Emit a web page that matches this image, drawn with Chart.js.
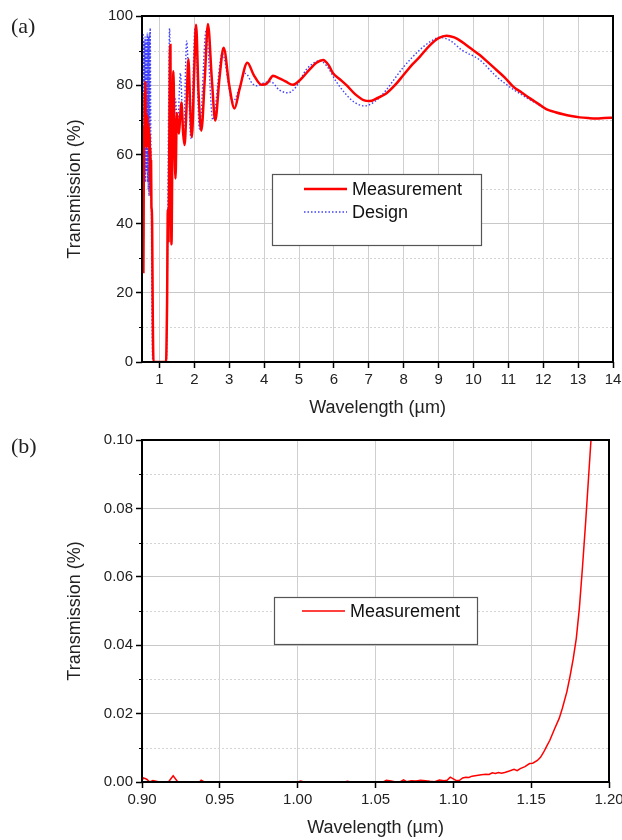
<!DOCTYPE html>
<html>
<head>
<meta charset="utf-8">
<script src="https://cdn.jsdelivr.net/npm/chart.js@4.4.1/dist/chart.umd.min.js"></script>
<style>
  body { margin: 0; background: #fff; }
  .panel { position: absolute; left: 0; width: 622px; height: 420px; }
</style>
</head>
<body>
<div class="panel" style="top:0"><canvas id="chartA" width="622" height="420"></canvas></div>
<div class="panel" style="top:420px"><canvas id="chartB" width="622" height="420"></canvas></div>
<script>
// (a) full spectrum, wavelength in um, transmission in %
let measWl = [0.50, 0.51, 0.52, 0.53, 0.54, 0.55, 0.56, 0.57, 0.58, 0.59, 0.60, 0.61, 0.62, 0.63, 0.64, 0.65,
  0.66, 0.67, 0.68, 0.69, 0.70, 0.71, 0.72, 0.73, 0.74, 0.75, 0.76, 0.77, 0.78, 0.79, 0.81, 0.83,
  1.19, 1.21, 1.22, 1.24, 1.26, 1.28, 1.30, 1.315, 1.33, 1.345, 1.37, 1.40, 1.43, 1.46, 1.50, 1.53,
  1.56, 1.60, 1.63, 1.68, 1.72, 1.77, 1.83, 1.88, 1.93, 2.00, 2.05, 2.12, 2.20, 2.30, 2.39, 2.50,
  2.60, 2.72, 2.84, 3.00, 3.15, 3.30, 3.52, 3.70, 3.93, 4.08, 4.20, 4.25, 4.44, 4.63, 4.82, 5.06,
  5.30, 5.50, 5.69, 5.85, 5.97, 6.16, 6.36, 6.60, 6.85, 7.02, 7.25, 7.50, 7.75, 8.00, 8.25, 8.46,
  8.75, 9.00, 9.23, 9.45, 9.66, 9.90, 10.18, 10.42, 10.66, 10.90, 11.14, 11.38, 11.62, 11.86, 12.10,
  12.35, 12.57, 12.80, 13.05, 13.30, 13.52, 13.75, 14.00];
let measT = [45, 60, 40, 55, 26, 50, 68, 62, 78, 64, 81, 63, 72, 62, 70, 64,
  71, 63, 69, 62, 68, 60, 66, 52, 62, 48, 58, 45, 44, 40, 12, 0,
  0, 10, 18, 44, 35, 60, 88, 91.6, 50, 34, 60, 84, 65, 53, 72, 68,
  66, 72, 75, 66, 62.7, 72, 87.5, 74, 65, 85, 97.5, 78, 66.8, 82, 97.7, 82,
  69.8, 82, 90.8, 80, 73.3, 79, 86.5, 83, 80.1, 80.5, 82.2, 82.7, 82.0, 81, 80.1, 81.8,
  84.5, 86.5, 87.3, 85.8, 83.5, 81.8, 80, 77.5, 75.7, 75.4, 76.3, 77.6, 80, 83, 86, 88.2,
  91.5, 93.6, 94.3, 93.8, 92.6, 90.8, 88.7, 86.6, 84.4, 82.2, 79.6, 77.9, 76.2, 74.6, 73,
  72.2, 71.6, 71.1, 70.7, 70.5, 70.4, 70.5, 70.6];

let designWl = [0.50, 0.51, 0.52, 0.53, 0.54, 0.55, 0.56, 0.57, 0.58, 0.59, 0.60, 0.61, 0.62, 0.63, 0.64, 0.65,
  0.66, 0.67, 0.68, 0.69, 0.70, 0.71, 0.72, 0.735, 0.75, 0.77, 0.79, 0.81, 1.20, 1.23, 1.26, 1.29,
  1.33, 1.37, 1.42, 1.46, 1.52, 1.60, 1.69, 1.78, 1.90, 2.02, 2.15, 2.34, 2.53, 2.80, 3.10, 3.47,
  3.66, 3.80, 4.00, 4.19, 4.44, 4.68, 4.92, 5.20, 5.45, 5.59, 5.80, 6.07, 6.36, 6.60, 6.88, 7.20,
  7.50, 7.75, 8.00, 8.46, 8.75, 9.03, 9.35, 9.66, 10.18, 10.66, 11.14, 11.62, 12.00];
let designT = [50, 90, 55, 95, 58, 93, 50, 92, 55, 94, 52, 90, 56, 93, 55, 95,
  52, 92, 50, 94, 48, 95, 50, 96.5, 70, 43, 10, 0, 0, 30, 70, 96.4,
  75, 58, 68, 76, 67, 83.5, 65, 92.8, 64.7, 96.4, 67.3, 96, 70, 89.2, 75.2, 83.4,
  80.5, 79.8, 80.7, 81, 78.6, 77.8, 79.6, 84.4, 86.6, 87.1, 85.5, 81, 77.2, 75, 74, 75.5,
  78.6, 82, 85.3, 90.2, 92.5, 93.8, 92.8, 90.2, 87.3, 82.5, 78.8, 75.8, 73.5];

let xTicksA = [1, 2, 3, 4, 5, 6, 7, 8, 9, 10, 11, 12, 13, 14];
let yTicksA = [0, 20, 40, 60, 80, 100];

// (b) zoom on the stop band
let zoomWl = [0.900, 0.901, 0.903, 0.905, 0.907, 0.909, 0.911, 0.917, 0.920, 0.923, 0.937, 0.938, 0.940,
  1.000, 1.002, 1.004, 1.030, 1.032, 1.034, 1.055, 1.057, 1.060, 1.063, 1.066, 1.068, 1.070, 1.073,
  1.076, 1.079, 1.082, 1.085, 1.088, 1.091, 1.094, 1.096, 1.098, 1.100, 1.102, 1.104, 1.106, 1.108,
  1.110, 1.112, 1.115, 1.118, 1.121, 1.123, 1.125, 1.127, 1.129, 1.131, 1.133, 1.136, 1.139, 1.141,
  1.143, 1.146, 1.149, 1.151, 1.154, 1.156, 1.158, 1.160, 1.162, 1.165, 1.168, 1.170, 1.173, 1.175,
  1.177, 1.179, 1.181, 1.183, 1.185, 1.187, 1.189];
let zoomT = [0.0005, 0.0012, 0.0008, 0.0, 0.0004, 0.0002, 0, 0, 0.0018, 0, 0, 0.0005, 0,
  0, 0.0003, 0, 0, 0.0002, 0, 0, 0.0005, 0.0003, 0, 0.0001, 0.0006, 0.0001, 0.0004,
  0.0003, 0.0005, 0.0004, 0.0002, 0.0001, 0.0006, 0.0004, 0.0005, 0.0014, 0.0009, 0.0004, 0.0005, 0.0012, 0.0014,
  0.0013, 0.0017, 0.0019, 0.0021, 0.0023, 0.0022, 0.0027, 0.0025, 0.0028, 0.0026, 0.0028, 0.0032, 0.0037, 0.0033,
  0.0039, 0.0045, 0.0054, 0.0055, 0.0063, 0.0072, 0.0087, 0.0105, 0.0122, 0.0155, 0.0186, 0.0215, 0.0265, 0.031,
  0.036, 0.042, 0.051, 0.063, 0.076, 0.090, 0.104];

let xTicksB = [0.90, 0.95, 1.00, 1.05, 1.10, 1.15, 1.20];
let yTicksB = [0, 0.02, 0.04, 0.06, 0.08, 0.10];

Chart.defaults.font.family = "'Liberation Sans', Arial, sans-serif";
Chart.defaults.color = '#222';

function pts(xs, ys) {
  return xs.map((x, i) => ({ x: x, y: ys[i] }));
}

// minor gridlines, minor ticks, frame, panel letter and boxed legend
let decor = {
  id: 'decor',
  beforeDatasetsDraw(chart) {
    let ctx = chart.ctx, a = chart.chartArea;
    let ys = chart.scales.y;
    let t = ys.ticks.map(k => k.value);
    ctx.save();
    ctx.strokeStyle = '#d4d4d4';
    ctx.lineWidth = 1;
    ctx.setLineDash([2, 2]);
    for (let i = 0; i < t.length - 1; i++) {
      let py = Math.round(ys.getPixelForValue((t[i] + t[i + 1]) / 2)) + 0.5;
      ctx.beginPath();
      ctx.moveTo(a.left, py);
      ctx.lineTo(a.right, py);
      ctx.stroke();
    }
    ctx.setLineDash([]);
    ctx.strokeStyle = '#000';
    for (let i = 0; i < t.length - 1; i++) {
      let py = Math.round(ys.getPixelForValue((t[i] + t[i + 1]) / 2)) + 0.5;
      ctx.beginPath();
      ctx.moveTo(a.left - 3, py);
      ctx.lineTo(a.left, py);
      ctx.stroke();
    }
    ctx.restore();
  },
  afterDraw(chart, args, opts) {
    let ctx = chart.ctx, a = chart.chartArea;
    ctx.save();
    ctx.strokeStyle = '#000';
    ctx.lineWidth = 2;
    ctx.strokeRect(a.left, a.top, a.right - a.left, a.bottom - a.top);

    ctx.fillStyle = '#222';
    ctx.font = "22px 'Liberation Serif', 'DejaVu Serif', serif";
    ctx.textBaseline = 'alphabetic';
    ctx.fillText(opts.letter, 11, opts.letterY);

    let b = opts.box;
    ctx.fillStyle = '#fff';
    ctx.fillRect(b.x, b.y, b.w, b.h);
    ctx.strokeStyle = '#555';
    ctx.lineWidth = 1.2;
    ctx.strokeRect(b.x + 0.5, b.y + 0.5, b.w, b.h);
    ctx.font = "18px 'Liberation Sans', Arial, sans-serif";
    ctx.textBaseline = 'middle';
    chart.data.datasets.forEach((ds, i) => {
      let ly = b.y + opts.rowY + i * opts.rowGap;
      ctx.strokeStyle = ds.borderColor;
      ctx.lineWidth = ds.borderWidth;
      ctx.setLineDash(ds.borderDash || []);
      ctx.beginPath();
      ctx.moveTo(b.x + opts.lineX, ly);
      ctx.lineTo(b.x + opts.lineX + 43, ly);
      ctx.stroke();
      ctx.setLineDash([]);
      ctx.fillStyle = '#111';
      ctx.fillText(ds.label, b.x + opts.lineX + 48, ly + 1);
    });
    ctx.restore();
  }
};

function axes(xmin, xmax, xt, ymin, ymax, yt, fmtX, fmtY) {
  return {
    x: {
      type: 'linear', min: xmin, max: xmax,
      afterBuildTicks: s => { s.ticks = xt.map(v => ({ value: v })); },
      afterFit: s => { s.height = 58; s.paddingRight = 0; s.paddingLeft = 0; },
      ticks: { font: { size: 15 }, padding: 3, maxRotation: 0, autoSkip: false, callback: fmtX },
      grid: { color: '#cfcfcf', lineWidth: 1, tickLength: 6, tickColor: '#000', tickWidth: 1.5 },
      border: { display: false },
      title: { display: true, text: 'Wavelength (µm)', font: { size: 18 }, padding: { top: 0, bottom: 1 } }
    },
    y: {
      type: 'linear', min: ymin, max: ymax,
      afterBuildTicks: s => { s.ticks = yt.map(v => ({ value: v })); },
      afterFit: s => { s.width = 142; s.paddingTop = 0; s.paddingBottom = 0; },
      ticks: { font: { size: 15 }, padding: 3, autoSkip: false, callback: fmtY },
      grid: { color: '#c8c8c8', lineWidth: 1, tickLength: 6, tickColor: '#000', tickWidth: 1.5 },
      border: { display: false },
      title: { display: true, text: 'Transmission (%)', font: { size: 18 }, padding: { top: 64, bottom: 0 } }
    }
  };
}

let chartA = new Chart(document.getElementById('chartA'), {
  type: 'line',
  data: {
    datasets: [{
      label: 'Measurement',
      data: pts(measWl, measT),
      borderColor: '#ff0000',
      borderWidth: 2.5,
      pointRadius: 0,
      cubicInterpolationMode: 'monotone'
    }, {
      label: 'Design',
      data: pts(designWl, designT),
      borderColor: 'rgba(30,30,255,0.85)',
      borderWidth: 1.4,
      borderDash: [1.5, 2],
      pointRadius: 0,
      cubicInterpolationMode: 'monotone'
    }]
  },
  options: {
    responsive: false,
    animation: false,
    devicePixelRatio: 1,
    layout: { padding: { left: 0, top: 16, right: 9, bottom: 0 } },
    scales: axes(0.5, 14, xTicksA, 0, 100, yTicksA, v => String(v), v => String(v)),
    plugins: {
      legend: { display: false },
      tooltip: { enabled: false },
      decor: { letter: '(a)', letterY: 33, box: { x: 272, y: 174, w: 209, h: 71 }, lineX: 32, rowY: 15, rowGap: 23 }
    }
  },
  plugins: [decor]
});

let chartB = new Chart(document.getElementById('chartB'), {
  type: 'line',
  data: {
    datasets: [{
      label: 'Measurement',
      data: pts(zoomWl, zoomT),
      borderColor: '#ff0000',
      borderWidth: 1.5,
      pointRadius: 0,
      tension: 0
    }]
  },
  options: {
    responsive: false,
    animation: false,
    devicePixelRatio: 1,
    layout: { padding: { left: 0, top: 20, right: 13, bottom: 0 } },
    scales: axes(0.9, 1.2, xTicksB, 0, 0.1, yTicksB, v => v.toFixed(2), v => v.toFixed(2)),
    plugins: {
      legend: { display: false },
      tooltip: { enabled: false },
      decor: { letter: '(b)', letterY: 33, box: { x: 274, y: 177, w: 203, h: 47 }, lineX: 28, rowY: 14, rowGap: 23 }
    }
  },
  plugins: [decor]
});
</script>
</body>
</html>
